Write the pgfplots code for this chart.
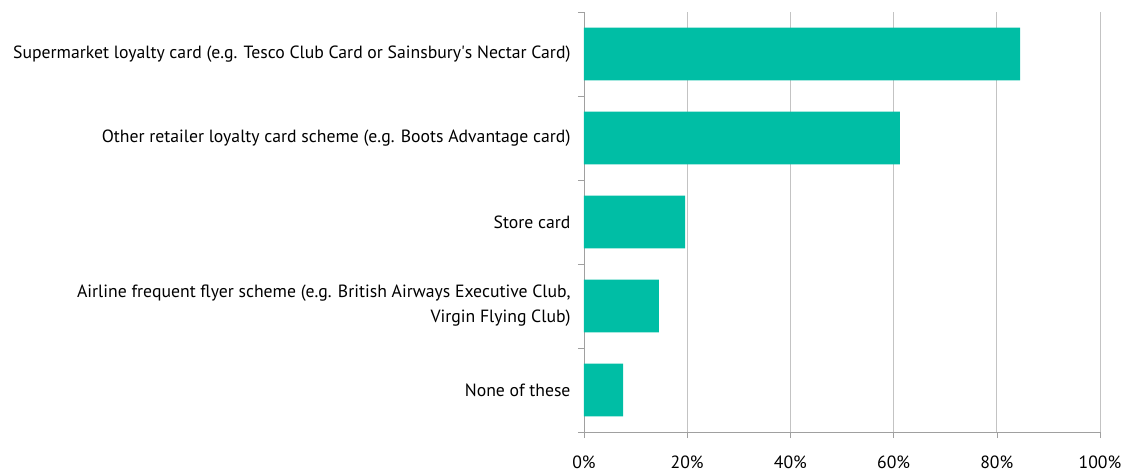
\documentclass[border=0pt]{standalone}
\usepackage{pgfplots}
\pgfplotsset{compat=1.18}
\usepackage{fontspec}
\setmainfont{PT Sans}
\definecolor{barc}{RGB}{0,190,165}
\definecolor{gridc}{RGB}{195,195,195}
\definecolor{axc}{RGB}{160,160,160}
\begin{document}
\begin{tikzpicture}
\begin{axis}[
  scale only axis,
  width=516bp, height=420bp,
  xbar, bar width=0.63,
  xmin=0, xmax=100,
  ymin=-0.5, ymax=4.5,
  y dir=reverse,
  axis x line*=bottom, axis y line*=left,
  axis line style={draw=axc},
  xtick={0,20,40,60,80,100},
  xticklabels={0\%,20\%,40\%,60\%,80\%,100\%},
  xmajorgrids, major grid style={draw=gridc, line width=0.8pt},
  x tick style={draw=axc},
  tick align=outside,
  major tick length=6bp,
  ytick={0,1,2,3,4},
  yticklabels={{Supermarket loyalty card (e.g. Tesco Club Card or Sainsbury\textquotesingle s Nectar Card)},
    {Other retailer loyalty card scheme (e.g. Boots Advantage card)},
    {Store card},
    {Airline frequent flyer scheme (e.g. British Airways Executive Club,\\Virgin Flying Club)},
    {None of these}},
  y tick style={draw=none},
  extra y ticks={-0.5,0.5,1.5,2.5,3.5,4.5},
  extra y tick labels={},
  extra y tick style={y tick style={draw=axc}, grid=none},
  yticklabel style={align=right, font=\fontsize{17.7bp}{25bp}\selectfont, xshift=-4bp},
  xticklabel style={font=\fontsize{17.7bp}{20bp}\selectfont, yshift=-14bp},
  clip=false,
]
\addplot[fill=barc, draw=none] coordinates {(84.5,0) (61.2,1) (19.6,2) (14.5,3) (7.6,4)};
\end{axis}
\path (current axis.south west) ++(-584bp,-36bp) rectangle ++(1128bp,468bp);
\end{tikzpicture}
\end{document}
